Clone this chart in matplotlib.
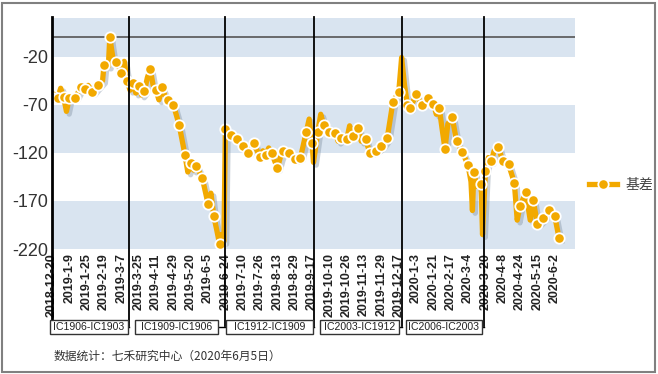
import numpy as np
import matplotlib
matplotlib.use("Agg")
import matplotlib.pyplot as plt
import matplotlib.patheffects as pe
from matplotlib.patches import Rectangle
from matplotlib.lines import Line2D
import matplotlib.transforms as mtransforms

plt.rcParams['font.family'] = ['Liberation Sans', 'Noto Sans CJK SC', 'DejaVu Sans']

# trading-day index, basis value, marker shown
day_idx = [0, 1, 4, 6, 8, 10, 12, 16, 20, 23, 25, 28, 32, 35, 36, 39, 40, 42, 44, 46,
           48, 50, 52, 54, 56, 58, 60, 62, 64, 66, 68, 70, 72, 74, 76, 78, 80, 84, 88, 92,
           94, 96, 98, 100, 104, 108, 110, 112, 114, 116, 117, 119, 120, 124, 128, 132, 136, 140, 142, 144,
           146, 148, 150, 152, 156, 158, 160, 164, 168, 172, 176, 178, 180, 181, 184, 186, 188, 192, 196, 198,
           200, 204, 206, 208, 212, 214, 217, 220, 224, 228, 232, 236, 240, 242, 244, 246, 248, 252, 256, 260,
           264, 266, 268, 270, 272, 274, 277, 280, 284, 288, 290, 291, 292, 294, 297, 298, 300, 302, 304, 306,
           309, 312, 316, 320, 322, 324, 328, 331, 333, 336, 340, 344, 348, 351]
basis = [-60, -63, -63, -53, -62, -77, -63, -63, -52, -54, -50, -57, -50, -45, -29, -30, 0, -20, -26, -30,
         -37, -25, -45, -55, -48, -58, -51, -60, -56, -42, -33, -50, -55, -65, -52, -60, -65, -70, -91, -122,
         -140, -131, -138, -134, -146, -173, -162, -186, -200, -215, -205, -212, -95, -102, -106, -113, -120, -110, -118, -124,
         -118, -122, -115, -120, -136, -125, -118, -120, -127, -125, -98, -85, -110, -130, -98, -80, -91, -98, -99, -108,
         -105, -106, -92, -103, -94, -108, -106, -120, -118, -113, -105, -67, -57, -21, -50, -70, -74, -59, -70, -63,
         -69, -80, -73, -95, -116, -90, -83, -108, -119, -133, -150, -180, -140, -155, -152, -205, -139, -125, -129, -118,
         -114, -129, -132, -151, -190, -175, -161, -190, -169, -194, -188, -179, -186, -209]
marked = [1, 1, 1, 0, 1, 0, 1, 1, 1, 1, 0, 1, 1, 0, 1, 0, 1, 0, 1, 0,
          1, 0, 1, 0, 1, 0, 1, 0, 1, 0, 1, 0, 1, 0, 1, 0, 1, 1, 1, 1,
          0, 1, 0, 1, 1, 1, 0, 1, 0, 1, 0, 0, 1, 1, 1, 1, 1, 1, 0, 1,
          0, 1, 0, 1, 1, 0, 1, 1, 1, 1, 1, 0, 1, 0, 1, 0, 1, 1, 1, 0,
          1, 1, 0, 1, 1, 0, 1, 1, 1, 1, 1, 1, 1, 0, 0, 1, 1, 1, 1, 1,
          1, 0, 1, 0, 1, 0, 1, 1, 1, 1, 0, 0, 1, 0, 1, 0, 1, 0, 1, 0,
          1, 1, 1, 1, 0, 1, 1, 0, 1, 1, 1, 1, 1, 1]

tick_idx = list(range(0, 349, 12))
tick_labels = ['2018-12-20', '2019-1-9', '2019-1-25', '2019-2-19', '2019-3-7', '2019-3-25',
               '2019-4-11', '2019-4-29', '2019-5-20', '2019-6-5', '2019-6-24', '2019-7-10',
               '2019-7-26', '2019-8-13', '2019-8-29', '2019-9-17', '2019-10-10', '2019-10-26',
               '2019-11-13', '2019-11-29', '2019-12-17', '2020-1-3', '2020-1-21', '2020-2-17',
               '2020-3-4', '2020-3-20', '2020-4-8', '2020-4-24', '2020-5-15', '2020-6-2']
y_ticks = [-20, -70, -120, -170, -220]

roll_idx = [0, 53, 120, 181, 242, 299]
contracts = ['IC1906-IC1903', 'IC1909-IC1906', 'IC1912-IC1909', 'IC2003-IC1912', 'IC2006-IC2003']

orange = '#F2A900'

fig = plt.figure(figsize=(6.58, 3.74), dpi=100)
ax = fig.add_axes([52 / 658, 1 - 249 / 374, 523 / 658, 231 / 374])
ax.set_xlim(0, 362)
ax.set_ylim(-220, 20)

for lo, hi in [(-20, 20), (-120, -70), (-220, -170)]:
    ax.axhspan(lo, hi, color='#d9e4f0', lw=0, zorder=0)
ax.axhline(0, color='#555555', lw=1.2, zorder=1)

x = np.array(day_idx)
y = np.array(basis)
m = np.array(marked, dtype=bool)
ax.plot(x, y, color=orange, lw=3.8, solid_joinstyle='round', zorder=3,
        path_effects=[pe.SimpleLineShadow(offset=(2, -2), shadow_color='#8a9aab', alpha=0.45), pe.Normal()])
ax.plot(x[m], y[m], 'o', color=orange, ms=7.5, mec='white', mew=1.3, zorder=4)

# contract roll lines, running down to the label boxes
trans = mtransforms.blended_transform_factory(ax.transData, ax.transAxes)
for i, r in enumerate(roll_idx):
    ax.plot([r, r], [1.005, -0.335], color='black', lw=2 if i == 0 else 1.3,
            transform=trans, clip_on=False, zorder=5)

box_y0 = -0.368
box_h = 0.06
left_gap = [-1.4, 4.4, 0.5, 4.5, 2.8]
right_gap = [0.4, 5, 0.4, 2, 1.4]
for i, name in enumerate(contracts):
    x0 = roll_idx[i] + left_gap[i]
    x1 = roll_idx[i + 1] - right_gap[i]
    ax.add_patch(Rectangle((x0, box_y0), x1 - x0, box_h, transform=trans, clip_on=False,
                           facecolor='white', edgecolor='#333333', lw=1, zorder=6))
    ax.plot([x1, roll_idx[i + 1]], [box_y0 + box_h / 2, box_y0 + box_h / 2], color='black',
            lw=1, transform=trans, clip_on=False, zorder=5)
    ax.text((x0 + x1) / 2, box_y0 + box_h / 2, name, transform=trans, ha='center', va='center',
            fontsize=7.6, color='#222222', zorder=7)

ax.set_yticks(y_ticks)
ax.set_yticklabels([str(v) for v in y_ticks], fontsize=13, color='#333333')
ax.set_xticks(tick_idx)
ax.set_xticklabels(tick_labels, rotation=90, fontsize=9, fontweight='bold', color='#222222')
ax.tick_params(length=0, pad=3)
for s in ax.spines.values():
    s.set_visible(False)

handle = Line2D([], [], color=orange, lw=3.8, marker='o', ms=7.5, mfc=orange, mec='white', mew=1.3)
fig.legend([handle], ['基差'], loc='center left', bbox_to_anchor=(582 / 658, 1 - 185 / 374),
           frameon=False, handlelength=2.0, handletextpad=0.6, borderpad=0,
           labelcolor='#444444', prop={'family': ['Noto Sans CJK SC'], 'size': 10})

fig.text(54 / 658, 1 - 356 / 374, '数据统计：七禾研究中心（2020年6月5日）', fontsize=8.5,
         family=['Noto Sans CJK SC'], color='#333333', va='center')

fig.patches.append(Rectangle((2 / 658, 2 / 374), 653 / 658, 369 / 374, transform=fig.transFigure,
                             fill=False, edgecolor='#808080', lw=1.5))

fig.savefig('out.png', dpi=100)
